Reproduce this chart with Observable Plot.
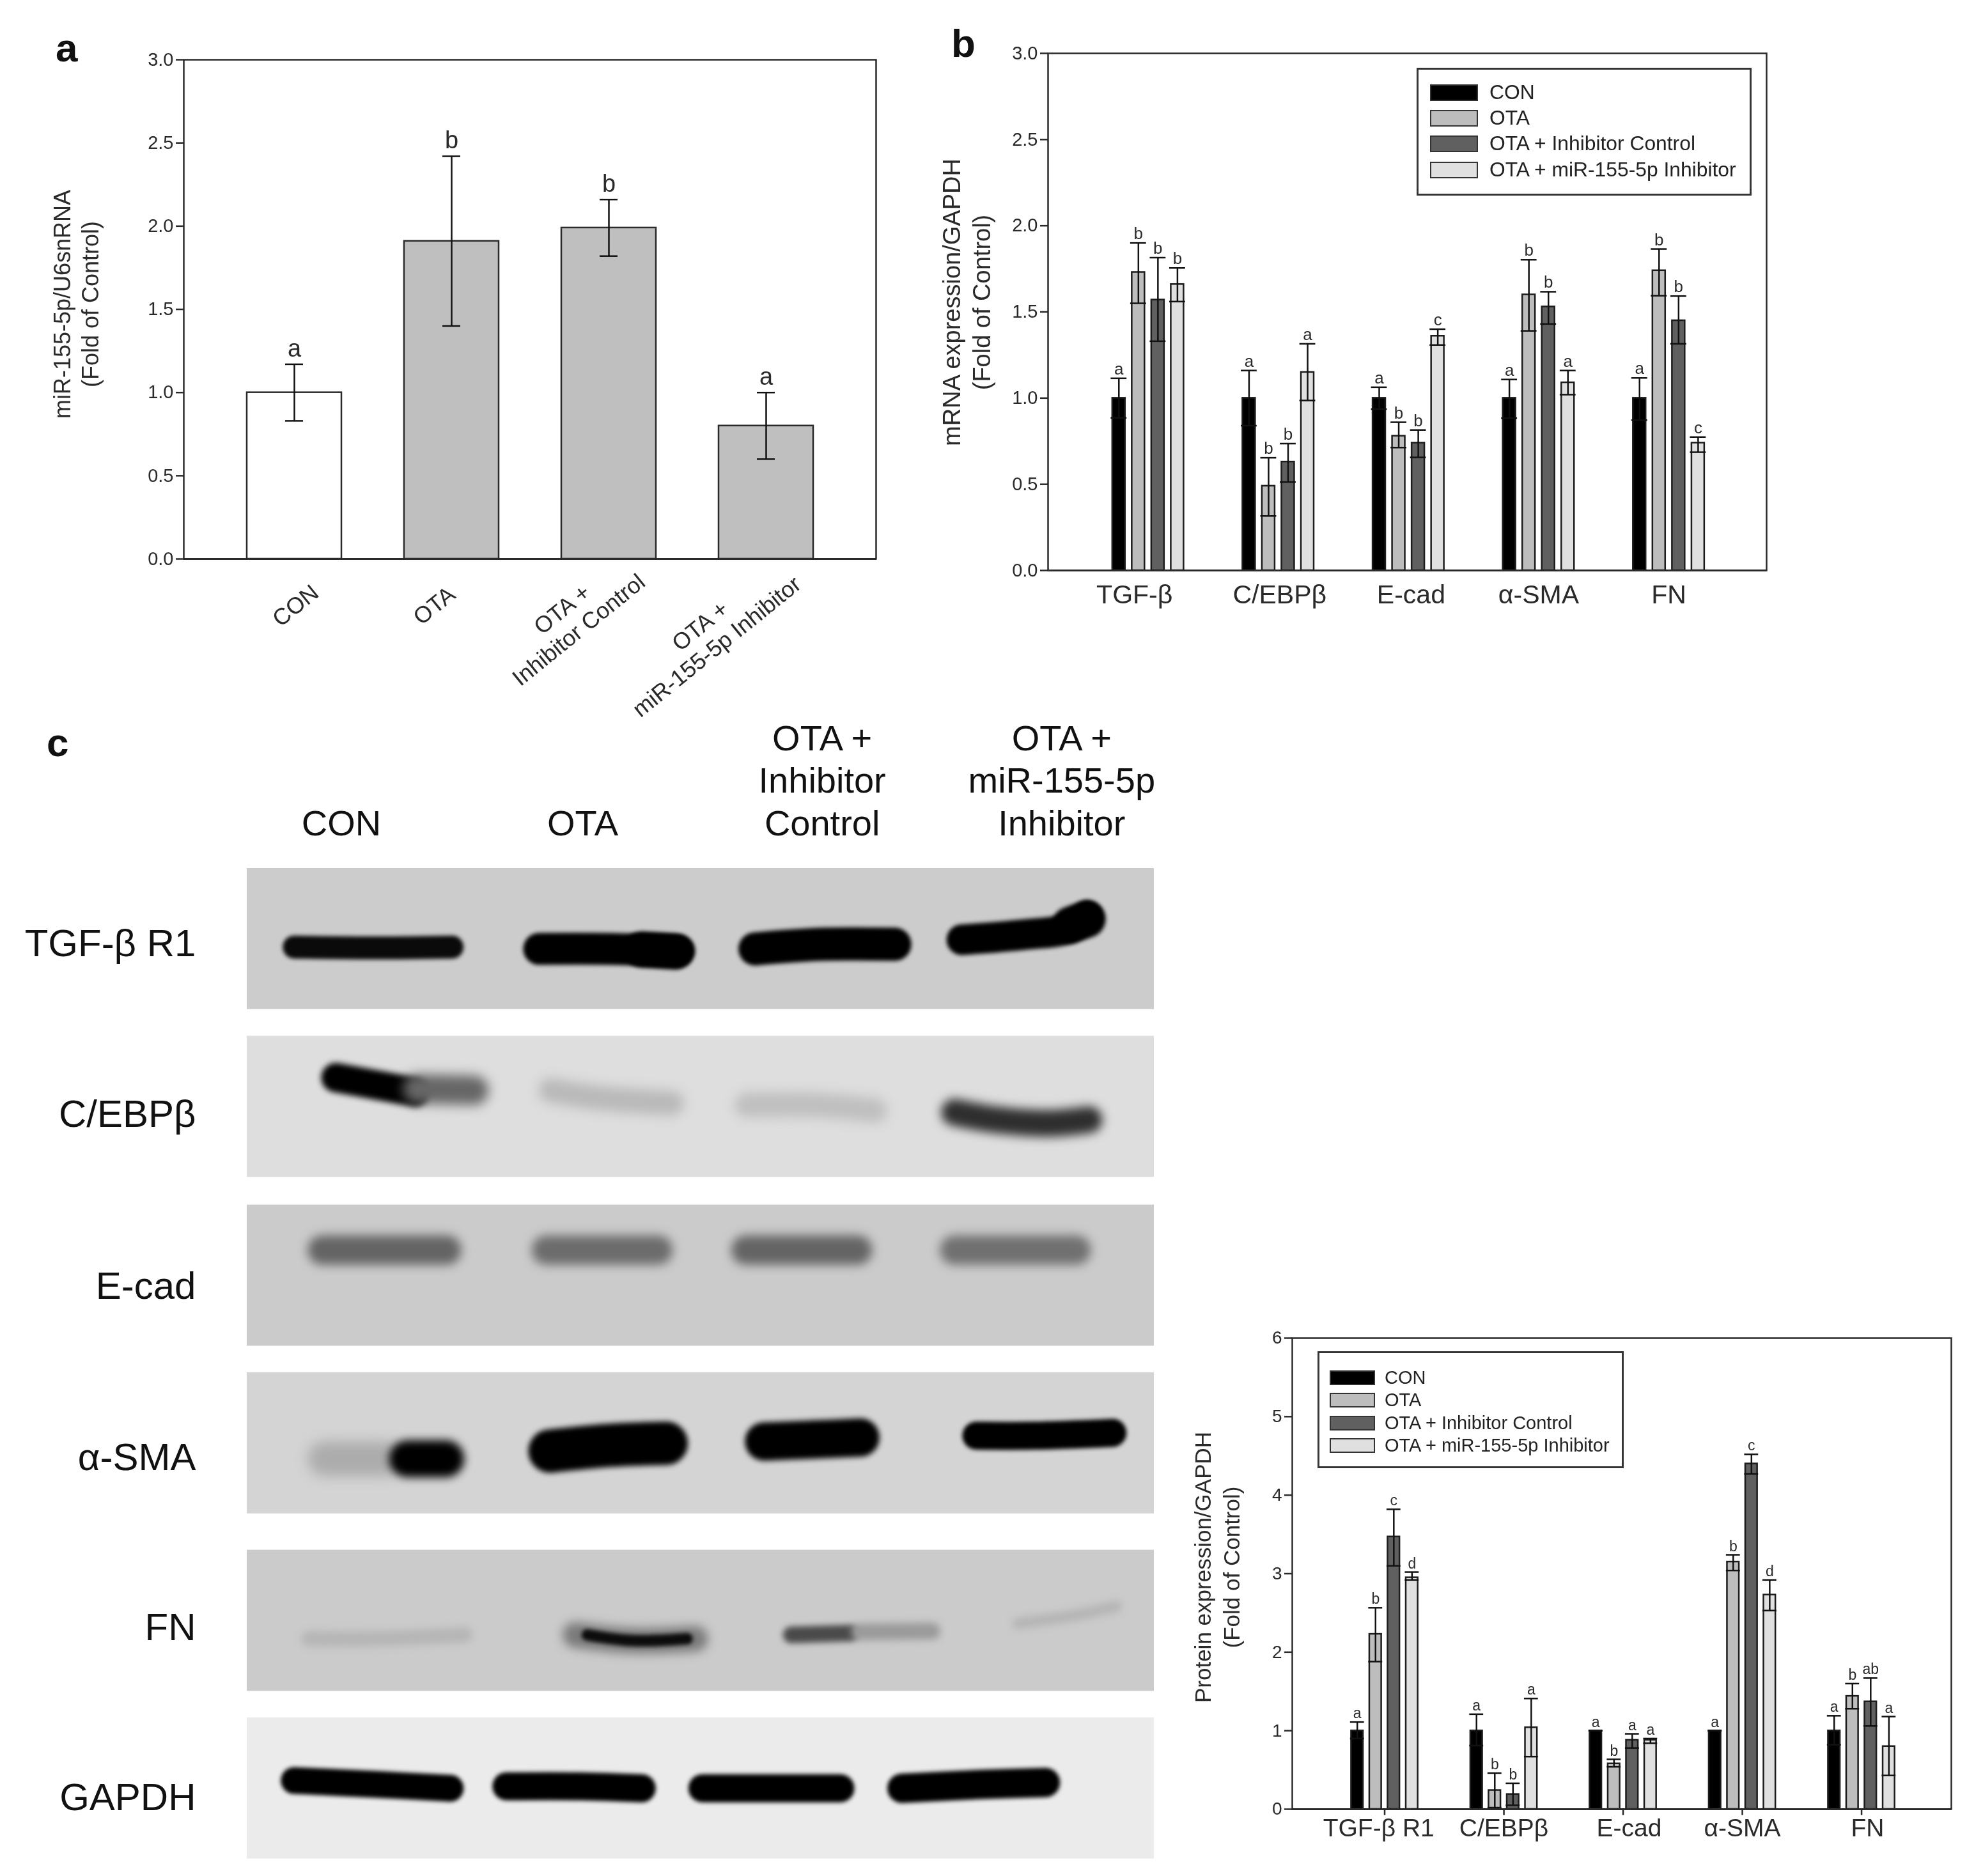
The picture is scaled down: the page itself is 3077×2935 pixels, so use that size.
<!DOCTYPE html>
<html><head><meta charset="utf-8">
<script src="https://cdn.jsdelivr.net/npm/d3@7"></script>
<script src="https://cdn.jsdelivr.net/npm/@observablehq/plot@0.6"></script>
<style>
html,body{margin:0;padding:0;background:#fff;}
#page{position:relative;width:3077px;height:2935px;overflow:hidden;font-family:"Liberation Sans",Arial,sans-serif;color:#222;}
#page svg{position:absolute;overflow:visible;filter:blur(0.7px);}
.tag{position:absolute;font-weight:bold;font-size:62px;line-height:1;color:#111;filter:blur(0.5px);}
.legend{position:absolute;border:3px solid #333;box-sizing:border-box;background:#fff;filter:blur(0.6px);}
.legend div{position:absolute;white-space:nowrap;line-height:1;}
</style></head><body><div id="page"></div>
<script>
// ---------- Panel a ----------
const mirCats = ["CON","OTA","OTA +\nInhibitor Control","OTA +\nmiR-155-5p Inhibitor"];
const mirMean = [1.00,1.91,1.99,0.80];
const mirUpper = [1.17,2.42,2.16,1.00];
const mirLower = [0.83,1.40,1.82,0.60];
const mirLetters = ["a","b","b","a"];

// ---------- Shared series ----------
const seriesNames = ["CON","OTA","OTA + Inhibitor Control","OTA + miR-155-5p Inhibitor"];
const seriesFill = ["#000000","#bdbdbd","#606060","#e0e0e0"];

// ---------- Panel b: mRNA ----------
const mrnaGroups = ["TGF-β","C/EBPβ","E-cad","α-SMA","FN"];
const mrnaMean = [[1,1,1,1,1],[1.73,0.49,0.78,1.60,1.74],[1.57,0.63,0.74,1.53,1.45],[1.66,1.15,1.36,1.09,0.74]];
const mrnaUpper = [[1.115,1.16,1.063,1.108,1.117],[1.90,0.654,0.86,1.803,1.865],[1.815,0.736,0.815,1.617,1.592],[1.755,1.315,1.40,1.16,0.774]];
const mrnaLower = [[0.885,0.84,0.936,0.884,0.872],[1.55,0.316,0.713,1.39,1.594],[1.33,0.513,0.656,1.43,1.315],[1.56,0.986,1.308,1.02,0.686]];
const mrnaLetters = [["a","a","a","a","a"],["b","b","b","b","b"],["b","b","b","b","b"],["b","a","c","a","c"]];

// ---------- Panel d: protein ----------
const protGroups = ["TGF-β R1","C/EBPβ","E-cad","α-SMA","FN"];
const protMean = [[1,1,1,1,1],[2.23,0.24,0.58,3.15,1.44],[3.47,0.19,0.88,4.40,1.37],[2.95,1.04,0.88,2.73,0.80]];
const protUpper = [[1.11,1.21,1,1,1.19],[2.566,0.46,0.635,3.24,1.60],[3.82,0.33,0.96,4.52,1.67],[3.02,1.41,0.90,2.92,1.18]];
const protLower = [[0.90,0.81,1,1,0.82],[1.88,0.02,0.54,3.04,1.28],[3.10,0.05,0.78,4.27,1.06],[2.92,0.67,0.84,2.53,0.43]];
const protLetters = [["a","a","a","a","a"],["b","b","b","b","b"],["c","b","a","c","ab"],["d","a","a","d","a"]];

// ---------- Panel c: western blot ----------
const blotRows = ["TGF-β R1","C/EBPβ","E-cad","α-SMA","FN","GAPDH"];
const blotLanes = ["CON","OTA","OTA +\nInhibitor\nControl","OTA +\nmiR-155-5p\nInhibitor"];
const blotShade = ["#cccccc","#dedede","#cbcbcb","#d4d4d4","#cbcbcb","#ebebeb"];
const rowTops = [0,0.987,1.98,2.966,4.01,4.996];
const rowHeight = 0.83;
const laneCenter = [10.4,37,63.4,89.8];
const rowLabelNudge = [8,12,17,23,11,15];
const blotBands = [
 {row:0,c:"#0a0a0a",w:36,b:3,p:[[5.2,55.8],[14.4,56.4],[22.6,55.8]]},
 {row:0,c:"#000",w:50,b:3,p:[[32.2,57.1],[39.3,57.1],[47.6,58.4]]},
 {row:0,c:"#000",w:56,b:3,p:[[43.5,57.5],[47.2,59]]},
 {row:0,c:"#000",w:52,b:3,p:[[56,57.1],[63.4,53.8],[71.4,53.8]]},
 {row:0,c:"#000",w:48,b:3,p:[[78.8,50.6],[85.9,46.8],[90.4,42.9],[92.6,33.8]]},
 {row:0,c:"#000",w:58,b:3,p:[[90.8,40],[92.6,36]]},
 {row:1,c:"#000",w:46,b:5,p:[[9.8,29.4],[18.5,39.7]]},
 {row:1,c:"#666",w:46,b:9,p:[[18.8,37.4],[25,38.4]]},
 {row:1,c:"#b9b9b9",w:38,b:9,p:[[33.5,38.4],[38.5,43.6],[46.8,47.5]]},
 {row:1,c:"#bfbfbf",w:38,b:9,p:[[55.1,48.8],[62.6,48.8],[69.2,52.7]]},
 {row:1,c:"#2e2e2e",w:42,b:8,p:[[78,54],[82.5,59.2],[88.4,61.8],[92.8,59.2]]},
 {row:2,c:"#646464",w:46,b:8,p:[[8.3,32],[22,32]]},
 {row:2,c:"#6c6c6c",w:46,b:8,p:[[33,32],[45.3,32]]},
 {row:2,c:"#646464",w:46,b:8,p:[[55,32],[67.3,32]]},
 {row:2,c:"#707070",w:46,b:8,p:[[78,32],[91.4,32]]},
 {row:3,c:"#acacac",w:54,b:10,p:[[8.6,61.1],[15.2,61.1]]},
 {row:3,c:"#000",w:58,b:7,p:[[17.7,61.1],[21.9,61.1]]},
 {row:3,c:"#000",w:68,b:4,p:[[33.4,55.6],[40.1,51.5],[46.2,50.1]]},
 {row:3,c:"#000",w:60,b:4,p:[[57,48.8],[62.6,47.4],[67.6,46]]},
 {row:3,c:"#000",w:44,b:3,p:[[80.4,44.7],[86.7,44.7],[95.4,42.7]]},
 {row:4,c:"#b6b6b6",w:24,b:6,p:[[6.8,62.8],[14.4,62.8],[24,60.1]]},
 {row:4,c:"#7a7a7a",w:40,b:8,p:[[36.2,60.1],[42.6,64.2],[49.4,62.8]]},
 {row:4,c:"#0c0c0c",w:18,b:3,p:[[37.5,60.1],[42.6,64.2],[48.5,62.8]]},
 {row:4,c:"#4a4a4a",w:26,b:5,p:[[60,60.1],[66.5,58.8]]},
 {row:4,c:"#9a9a9a",w:26,b:6,p:[[67.5,58],[75.5,57.4]]},
 {row:4,c:"#b5b5b5",w:18,b:6,p:[[85,52],[90.9,46.6],[95.8,39.9]]},
 {row:5,c:"#000",w:42,b:3,p:[[5.2,44.5],[14.4,47.3],[22.4,50]]},
 {row:5,c:"#000",w:44,b:3,p:[[28.6,48.6],[36.8,48.6],[43.5,50]]},
 {row:5,c:"#000",w:44,b:3,p:[[50.2,50],[58.4,50],[65.4,50]]},
 {row:5,c:"#000",w:46,b:3,p:[[72.2,50],[80.9,47.3],[88,45.9]]}
];

const page = document.getElementById("page");
const ink = "#2a2a2a";
function place(svg,left,top){svg.style.left=left+"px";svg.style.top=top+"px";page.appendChild(svg);}

// Panel a
const aData = mirCats.map((name,i)=>({name,mean:mirMean[i],up:mirUpper[i],lo:mirLower[i],letter:mirLetters[i],first:i===0}));
const aLabelShift = [[1,72],[-28,72],[-61,94],[-91,120]];
place(Plot.plot({
  width:1400,height:1130,marginLeft:287,marginRight:30,marginTop:93,marginBottom:256,
  style:{fontFamily:"Liberation Sans, Arial, sans-serif",background:"none",color:ink},
  x:{domain:mirCats,padding:0.4,axis:null},
  y:{domain:[0,3],axis:null},
  marks:[
    Plot.barY(aData,{x:"name",y:"mean",fill:d=>d.first?"#ffffff":"#bfbfbf",stroke:ink,strokeWidth:2.5}),
    Plot.ruleX(aData,{x:"name",y1:"lo",y2:"up",stroke:"#111",strokeWidth:2.5}),
    Plot.tickY(aData,{x:"name",y:"up",stroke:"#111",strokeWidth:2.5,insetLeft:60,insetRight:60}),
    Plot.tickY(aData,{x:"name",y:"lo",stroke:"#111",strokeWidth:2.5,insetLeft:60,insetRight:60}),
    Plot.text(aData,{x:"name",y:"up",text:"letter",fontSize:38,lineAnchor:"bottom",dy:-12,fill:ink}),
    ...aData.map((d,i)=>Plot.text([d],{x:"name",y:0,text:"name",rotate:-39,fontSize:36,lineHeight:1.15,dx:aLabelShift[i][0],dy:aLabelShift[i][1],fill:ink})),
    Plot.axisY({ticks:d3.range(0,3.01,0.5),tickFormat:d3.format(".1f"),fontSize:29,tickSize:12,tickPadding:4,label:null,stroke:ink,strokeWidth:2.5,fill:ink}),
    Plot.text(["miR-155-5p/U6snRNA\n(Fold of Control)"],{frameAnchor:"left",textAnchor:"middle",rotate:-90,fontSize:36,lineHeight:1.22,dx:-170,dy:-8,fill:ink}),
    Plot.frame({stroke:ink,strokeWidth:2.5}),
    Plot.ruleY([0],{stroke:ink,strokeWidth:3})
  ]
}),0,0);

// Grouped panels b and d
function grouped(o){
  const rows=[];
  o.groups.forEach((g,gi)=>seriesNames.forEach((s,si)=>rows.push({
    g,gi,si,mean:o.mean[si][gi],up:o.up[si][gi],lo:o.lo[si][gi],letter:o.letters[si][gi],
    x:gi+(si-1.5)*o.step
  })));
  const names=o.groups.map((name,i)=>({name,x:i+o.nameNudge[i]}));
  return Plot.plot({
    width:o.width,height:o.height,marginLeft:o.ml,marginRight:o.mr,marginTop:o.mt,marginBottom:o.mb,
    style:{fontFamily:"Liberation Sans, Arial, sans-serif",background:"none",color:ink},
    x:{domain:o.xDomain,axis:null},
    y:{domain:o.yDomain,axis:null},
    marks:[
      Plot.rect(rows,{x1:d=>d.x-o.bar/2,x2:d=>d.x+o.bar/2,y1:0,y2:"mean",fill:d=>seriesFill[d.si],stroke:"#1c1c1c",strokeWidth:2.5}),
      Plot.ruleX(rows,{x:"x",y1:"lo",y2:"up",stroke:"#111",strokeWidth:2.5}),
      Plot.ruleY(rows,{y:"up",x1:d=>d.x-o.cap/2,x2:d=>d.x+o.cap/2,stroke:"#111",strokeWidth:2.5}),
      Plot.ruleY(rows,{y:"lo",x1:d=>d.x-o.cap/2,x2:d=>d.x+o.cap/2,stroke:"#111",strokeWidth:2.5}),
      Plot.text(rows,{x:"x",y:"up",text:"letter",fontSize:o.letterSize,lineAnchor:"bottom",dy:-6,fill:ink}),
      Plot.axisY({ticks:o.yTicks,tickFormat:o.yFormat,fontSize:o.tickFont,tickSize:12,tickPadding:4,label:null,stroke:ink,strokeWidth:2.5,fill:ink}),
      ...(o.xTick?[Plot.ruleX(o.groups.map((g,i)=>i),{x:d=>d,y1:0,y2:-o.xTick,stroke:ink,strokeWidth:2.5})]:[]),
      Plot.text(names,{x:"x",y:0,text:"name",fontSize:o.groupFont,dy:o.nameDy,fill:ink}),
      Plot.text([o.ylabel],{frameAnchor:"left",textAnchor:"middle",rotate:-90,fontSize:o.labelFont,lineHeight:o.labelLH,dx:o.labelDx,dy:o.labelDy,fill:ink}),
      Plot.frame({stroke:ink,strokeWidth:2.5}),
      Plot.ruleY([0],{stroke:ink,strokeWidth:3})
    ]
  });
}
place(grouped({groups:mrnaGroups,mean:mrnaMean,up:mrnaUpper,lo:mrnaLower,letters:mrnaLetters,
  width:1400,height:1000,ml:189,mr:87,mt:83,mb:108,xDomain:[-0.769,4.751],yDomain:[0,3],
  step:0.15,bar:0.098,cap:0.122,letterSize:26,yTicks:d3.range(0,3.01,0.5),yFormat:d3.format(".1f"),tickFont:29,
  groupFont:41,xTick:0,nameDy:38,nameNudge:[-0.105,0.01,0.02,0,0],ylabel:"mRNA expression/GAPDH\n(Fold of Control)",labelFont:38,labelLH:1.25,labelDx:-129,labelDy:-15}),1450,0);
place(grouped({groups:protGroups,mean:protMean,up:protUpper,lo:protLower,letters:protLetters,
  width:1227,height:895,ml:171,mr:25,mt:53,mb:105,xDomain:[-0.775,4.753],yDomain:[0,6],
  step:0.153,bar:0.1,cap:0.117,letterSize:23,yTicks:d3.range(0,7),yFormat:d3.format("d"),tickFont:28,
  groupFont:39,xTick:0.08,nameDy:30,nameNudge:[-0.05,0,0.05,0,0.05],ylabel:"Protein expression/GAPDH\n(Fold of Control)",labelFont:35,labelLH:1.28,labelDx:-119,labelDy:-10}),1850,2040);

// Panel c
const rowsData = blotRows.map((name,i)=>({name,top:rowTops[i],shade:blotShade[i],nudge:rowLabelNudge[i]}));
place(Plot.plot({
  width:1850,height:1805,marginLeft:386,marginRight:45,marginTop:228,marginBottom:30,
  style:{fontFamily:"Liberation Sans, Arial, sans-serif",background:"none",color:"#111"},
  x:{domain:[0,100],axis:null},
  y:{domain:[0,5.816],reverse:true,axis:null},
  marks:[
    Plot.rect(rowsData,{x1:0,x2:100,y1:"top",y2:d=>d.top+rowHeight,fill:"shade"}),
    ...blotBands.map(b=>Plot.line(b.p,{x:d=>d[0],y:d=>rowTops[b.row]+d[1]/100*rowHeight,stroke:b.c,strokeWidth:b.w,strokeLinecap:"round",strokeLinejoin:"round",curve:"catmull-rom",imageFilter:`blur(${b.b}px)`})),
    ...rowsData.map(r=>Plot.text([r],{x:0,y:d=>d.top+rowHeight/2,text:"name",textAnchor:"end",fontSize:60,dx:-80,dy:r.nudge,fill:"#111"})),
    ...blotLanes.map((l,i)=>Plot.text([l],{x:laneCenter[i],y:0,text:d=>d,fontSize:56,lineHeight:1.18,lineAnchor:"bottom",dy:-52,fill:"#111"}))
  ]
}),0,1130);

// Panel tags
[["a",87,44],["b",1488,37],["c",73,1131]].forEach(([t,x,y])=>{
  const el=document.createElement("div");el.className="tag";el.textContent=t;el.style.left=x+"px";el.style.top=y+"px";page.appendChild(el);
});

// Legends
function legend(box,swX,swW,swH,textX,rowY,font){
  const el=document.createElement("div");el.className="legend";
  Object.assign(el.style,{left:box[0]+"px",top:box[1]+"px",width:(box[2]-box[0])+"px",height:(box[3]-box[1])+"px"});
  seriesNames.forEach((s,i)=>{
    const sw=document.createElement("div");
    Object.assign(sw.style,{left:(swX-box[0])+"px",top:(rowY[i]-swH/2-box[1])+"px",width:swW+"px",height:swH+"px",background:seriesFill[i],border:"2.5px solid #333",boxSizing:"border-box"});
    const tx=document.createElement("div");tx.textContent=s;
    Object.assign(tx.style,{left:(textX-box[0])+"px",top:(rowY[i]-font/2-box[1])+"px",fontSize:font+"px"});
    el.appendChild(sw);el.appendChild(tx);
  });
  page.appendChild(el);
}
legend([2216,106,2740,306],2234,75,26,2327,[142,182,222,263],31.8);
legend([2061,2114,2540,2297],2077,71,23,2163,[2152,2187,2223,2258],29);
</script></body></html>
